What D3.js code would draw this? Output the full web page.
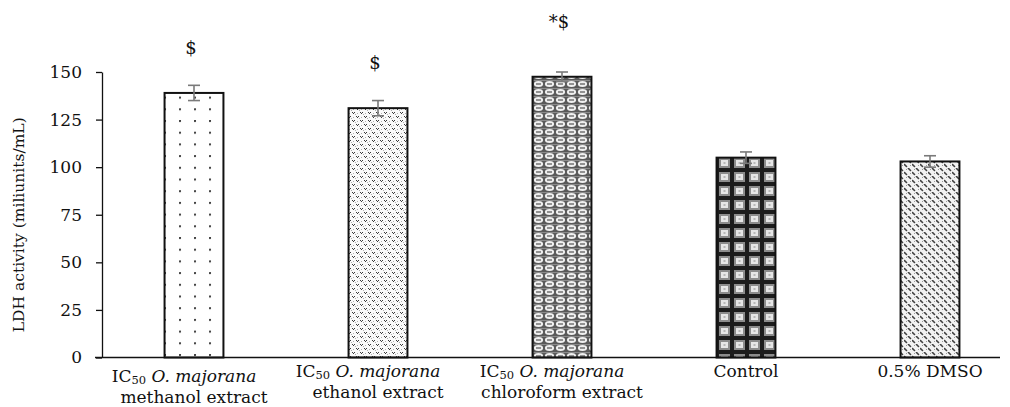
<!DOCTYPE html>
<html>
<head>
<meta charset="utf-8">
<script src="https://cdn.jsdelivr.net/npm/d3@7"></script>
<style>
  body { margin: 0; background: #fff; }
  svg text { font-family: "DejaVu Serif", serif; fill: #111; }
</style>
</head>
<body>
<div id="chart"></div>
<script>
// data
var groups = ["methanol", "ethanol", "chloroform", "control", "dmso"];
var line1 = ["IC50 O. majorana", "IC50 O. majorana", "IC50 O. majorana", "Control", "0.5% DMSO"];
var line2 = ["methanol extract", "ethanol extract", "chloroform extract", "", ""];
var means = [139, 131, 147.5, 105, 103];
var errs = [4, 4, 2.5, 3, 3];
var marks = ["$", "$", "*$", "", ""];
var markLevels = [163, 155, 176.5, 0, 0];
var yTicks = [0, 25, 50, 75, 100, 125, 150];

function render_chart() {
    var width = 1010, height = 407,
        left = 102, top = 72, bottom = 357.5,
        step = 184;

    var svg = d3.select("#chart").append("svg")
        .attr("width", width)
        .attr("height", height);

    var defs = svg.append("defs");

    // methanol: sparse dots
    var p1 = defs.append("pattern").attr("id", "pat0")
        .attr("patternUnits", "userSpaceOnUse")
        .attr("x", 14).attr("y", 3).attr("width", 15).attr("height", 11.7);
    p1.append("rect").attr("width", 15).attr("height", 11.7).attr("fill", "#fff");
    p1.append("circle").attr("cx", 1).attr("cy", 1).attr("r", 1.1).attr("fill", "#333");

    // ethanol: small confetti
    var p2 = defs.append("pattern").attr("id", "pat1")
        .attr("patternUnits", "userSpaceOnUse")
        .attr("width", 8).attr("height", 8);
    p2.append("rect").attr("width", 8).attr("height", 8).attr("fill", "#fafafa");
    [[0, 0], [2, 0], [1, 1], [4, 4], [6, 4], [5, 5], [3, 2], [7, 6], [1, 5], [5, 1]].forEach(function (d, i) {
        p2.append("rect").attr("x", d[0]).attr("y", d[1]).attr("width", 1).attr("height", 1)
            .attr("fill", i > 5 ? "#b0b0b0" : "#3a3a3a");
    });

    // chloroform: sphere rows
    var p3 = defs.append("pattern").attr("id", "pat2")
        .attr("patternUnits", "userSpaceOnUse")
        .attr("x", 533).attr("width", 11).attr("height", 8);
    p3.append("rect").attr("width", 11).attr("height", 8).attr("fill", "#5a5a5a");
    p3.append("ellipse").attr("cx", 5.5).attr("cy", 4).attr("rx", 4.6).attr("ry", 3).attr("fill", "#f0f0f0");
    p3.append("rect").attr("x", 3).attr("y", 3.4).attr("width", 5).attr("height", 1.2).attr("fill", "#555");
    p3.append("rect").attr("x", 0).attr("y", 0).attr("width", 11).attr("height", 0.8).attr("fill", "#999");

    // control: dark plaid
    var p4 = defs.append("pattern").attr("id", "pat3")
        .attr("patternUnits", "userSpaceOnUse")
        .attr("x", 717).attr("y", 2).attr("width", 15).attr("height", 14);
    p4.append("rect").attr("width", 15).attr("height", 14).attr("fill", "#1c1c1c");
    p4.append("rect").attr("x", 2).attr("y", 2).attr("width", 11).attr("height", 10).attr("fill", "#8c8c8c");
    p4.append("rect").attr("x", 4).attr("y", 4).attr("width", 7).attr("height", 6).attr("fill", "#e6e6e6");
    p4.append("rect").attr("x", 6.5).attr("y", 6.5).attr("width", 2).attr("height", 1).attr("fill", "#888");

    // dmso: dashed downward diagonal
    var p5 = defs.append("pattern").attr("id", "pat4")
        .attr("patternUnits", "userSpaceOnUse")
        .attr("width", 8).attr("height", 8);
    p5.append("rect").attr("width", 8).attr("height", 8).attr("fill", "#f2f2f2");
    p5.append("path").attr("d", "M0.5,4.5L2.5,6.5M4.5,0.5L6.5,2.5")
        .attr("stroke", "#404040").attr("stroke-width", 1.6).attr("stroke-linecap", "round");
    p5.append("rect").attr("x", 6).attr("y", 5).attr("width", 1).attr("height", 1).attr("fill", "#999");
    p5.append("rect").attr("x", 2).attr("y", 1).attr("width", 1).attr("height", 1).attr("fill", "#999");

    var x = d3.scaleBand()
        .domain(groups)
        .range([left, left + step * groups.length])
        .paddingInner(0.68)
        .paddingOuter(0.34);

    var y = d3.scaleLinear()
        .domain([0, 150])
        .range([bottom, top]);

    // y axis
    var yAxis = svg.append("g")
        .attr("transform", "translate(" + left + ",0)")
        .call(d3.axisLeft(y).tickValues(yTicks).tickSize(6).tickPadding(14).tickSizeOuter(0));
    yAxis.select(".domain").attr("stroke", "#111").attr("stroke-width", 1.3);
    yAxis.selectAll(".tick line").attr("stroke", "#111").attr("stroke-width", 1.3);
    yAxis.selectAll(".tick text")
        .style("font-family", "DejaVu Serif")
        .style("font-size", "17px")
        .attr("fill", "#111");

    svg.append("text")
        .attr("transform", "translate(24," + (y(75) + 10) + ") rotate(-90)")
        .attr("text-anchor", "middle")
        .style("font-size", "15.5px")
        .text("LDH activity (miliunits/mL)");

    // bars
    svg.selectAll(".bar")
        .data(groups)
        .enter().append("rect")
        .attr("class", "bar")
        .attr("x", function (d) { return x(d); })
        .attr("y", function (d, i) { return y(means[i]); })
        .attr("width", x.bandwidth())
        .attr("height", function (d, i) { return y(0) - y(means[i]); })
        .attr("fill", function (d, i) { return "url(#pat" + i + ")"; })
        .attr("stroke", "#111")
        .attr("stroke-width", 2);

    // x axis line
    svg.append("line")
        .attr("x1", left - 7).attr("x2", 1000)
        .attr("y1", y(0)).attr("y2", y(0))
        .attr("stroke", "#111").attr("stroke-width", 1.5);

    // error bars
    var eb = svg.selectAll(".err")
        .data(groups)
        .enter().append("g")
        .attr("class", "err")
        .attr("stroke", "#7a7a7a")
        .attr("stroke-width", 1.6);
    eb.append("line")
        .attr("x1", function (d) { return x(d) + x.bandwidth() / 2; })
        .attr("x2", function (d) { return x(d) + x.bandwidth() / 2; })
        .attr("y1", function (d, i) { return y(means[i] + errs[i]); })
        .attr("y2", function (d, i) { return y(means[i] - errs[i]); });
    [1, -1].forEach(function (s) {
        eb.append("line")
            .attr("x1", function (d) { return x(d) + x.bandwidth() / 2 - 6; })
            .attr("x2", function (d) { return x(d) + x.bandwidth() / 2 + 6; })
            .attr("y1", function (d, i) { return y(means[i] + s * errs[i]); })
            .attr("y2", function (d, i) { return y(means[i] + s * errs[i]); });
    });

    // significance marks
    svg.selectAll(".mark")
        .data(groups)
        .enter().append("text")
        .attr("class", "mark")
        .attr("x", function (d) { return x(d) + x.bandwidth() / 2 - 3; })
        .attr("y", function (d, i) { return y(markLevels[i]); })
        .attr("dy", "0.35em")
        .attr("text-anchor", "middle")
        .style("font-size", "18px")
        .text(function (d, i) { return marks[i]; });

    // category labels
    var lab = svg.selectAll(".lab")
        .data(groups)
        .enter().append("g")
        .attr("class", "lab")
        .attr("transform", function (d, i) {
            return "translate(" + (x(d) + x.bandwidth() / 2) + "," + (i === 0 ? 382 : 377) + ")";
        });

    lab.each(function (d, i) {
        var g = d3.select(this);
        var t = g.append("text")
            .attr("text-anchor", "middle")
            .attr("x", -10)
            .style("font-size", "17px");
        var s = line1[i];
        if (s.indexOf("IC50") === 0) {
            t.append("tspan").text("IC");
            t.append("tspan").attr("dy", 2).style("font-size", "11.5px").text("50");
            t.append("tspan").attr("dy", -2).text(" ");
            t.append("tspan").style("font-style", "italic").text(s.slice(5));
        } else {
            t.attr("x", 0).text(s);
        }
        if (line2[i]) {
            g.append("text")
                .attr("text-anchor", "middle")
                .attr("y", 20.5)
                .attr("x", 0)
                .style("font-size", "17px")
                .text(line2[i]);
        }
    });
}

render_chart();
</script>
</body>
</html>
